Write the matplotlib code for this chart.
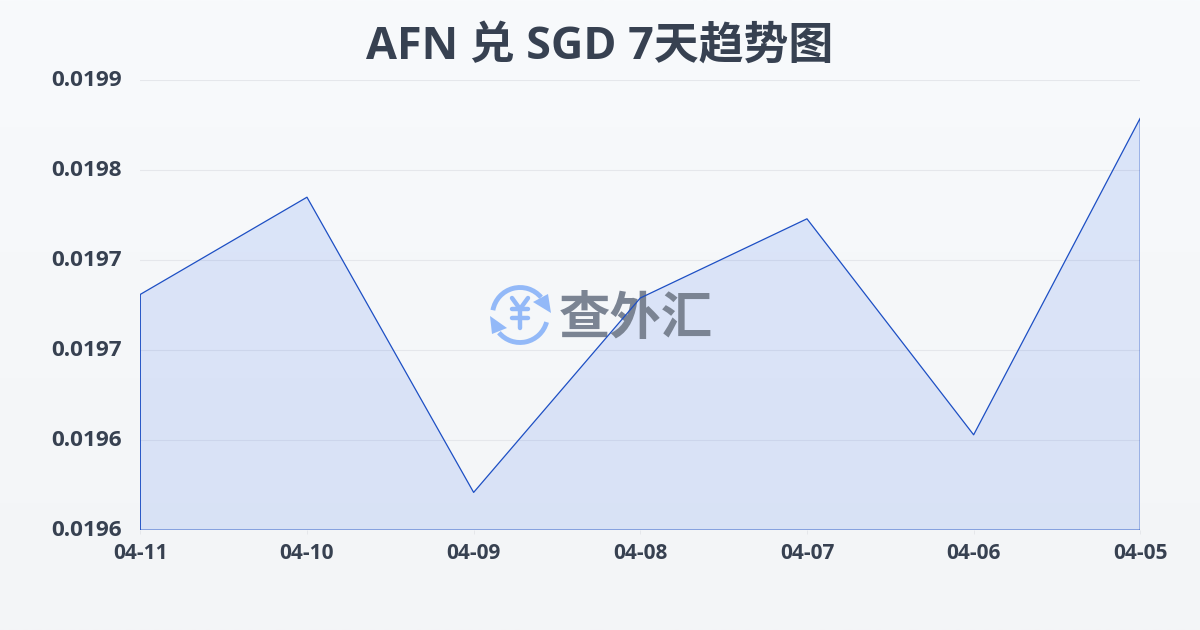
import numpy as np
import matplotlib
matplotlib.use("Agg")
import matplotlib.pyplot as plt
from matplotlib.lines import Line2D
from matplotlib.patches import Arc, Polygon
from matplotlib.transforms import Affine2D

plt.rcParams['font.family'] = ['Open Sans', 'Noto Sans CJK SC', 'DejaVu Sans']

dates = ["04-11", "04-10", "04-09", "04-08", "04-07", "04-06", "04-05"]
rates = [0.019731, 0.019785, 0.019621, 0.019729, 0.019773, 0.019653, 0.019829]
y_ticks = [0.0196, 0.01965, 0.0197, 0.01975, 0.0198, 0.01985]
y_labels = ["0.0196", "0.0196", "0.0197", "0.0197", "0.0198", "0.0199"]

W, H = 1200, 630
TEXT = "#374151"
BLUE = "#1d4fc4"
LOGO = "#93b9f8"

fig = plt.figure(figsize=(W / 100, H / 100), dpi=100)

# fondo degradado
bg = fig.add_axes([0, 0, 1, 1], zorder=0)
bg.imshow(np.linspace(0, 1, 256).reshape(-1, 1), aspect="auto", extent=[0, 1, 0, 1],
          cmap=matplotlib.colors.LinearSegmentedColormap.from_list("bg", ["#f8fafc", "#f3f5f7"]))
bg.axis("off")

ax = fig.add_axes([140.3 / W, 1 - 530.2 / H, 1000 / W, 450 / H], zorder=1)
ax.patch.set_alpha(0)
x = np.arange(len(dates))
ax.fill_between(x, rates, y_ticks[0], facecolor="#2563eb", alpha=0.13, lw=0, zorder=2)
ax.fill_between(x, rates, y_ticks[0], facecolor="none", edgecolor=BLUE, lw=0.9, zorder=5)

ax.set_xlim(0, len(dates) - 1)
ax.set_ylim(y_ticks[0], y_ticks[-1])
ax.set_xticks(x)
ax.set_xticklabels(dates, fontsize=15, fontweight="bold", color=TEXT)
ax.set_yticks(y_ticks)
ax.set_yticklabels(y_labels, fontsize=16.2, fontweight="bold", color=TEXT)
ax.tick_params(axis="x", length=3, width=0.7, color="#e5e7eb", pad=6)
ax.tick_params(axis="y", length=0, pad=13.5)
ax.grid(axis="y", color="#e5e7eb", lw=0.8)
ax.set_axisbelow(True)
for s in ax.spines.values():
    s.set_visible(False)
# las etiquetas del eje y van un poco por encima de la linea
for lab in ax.get_yticklabels():
    lab.set_transform(lab.get_transform() + Affine2D().translate(0, 2))

# marca de agua, en pixeles de la figura
px = Affine2D().scale(1, -1).translate(0, H)
ax.add_patch(Arc((520, 315), 55, 55, theta1=190, theta2=320, transform=px, color=LOGO, lw=3.5,
                 zorder=3, clip_on=False))
ax.add_patch(Arc((520, 315), 55, 55, theta1=15, theta2=140, transform=px, color=LOGO, lw=3.5,
                 zorder=3, clip_on=False))
ax.add_patch(Polygon([[548, 294], [551, 313], [533, 302]], transform=px, color=LOGO, lw=0, zorder=3, clip_on=False))
ax.add_patch(Polygon([[490, 316], [507, 328], [492, 334]], transform=px, color=LOGO, lw=0, zorder=3, clip_on=False))
# simbolo del yen con trazos redondeados
for xs, ys in [([512, 520, 528], [298, 309, 298]), ([520, 520], [309, 328]), ([512, 528], [309, 309]),
               ([512, 528], [318, 318])]:
    ax.add_line(Line2D(xs, ys, transform=px, color=LOGO, lw=3.2, solid_capstyle="round", zorder=3, clip_on=False))
ax.text(636, 321, "查外汇", transform=px, fontsize=37, fontweight="bold", color="#7b8493", ha="center",
        va="center", zorder=3, clip_on=False)

fig.text(0.5, 1 - 47 / H, "AFN 兑 SGD 7天趋势图", fontsize=32.3, fontweight="bold", color=TEXT,
         ha="center", va="center")

fig.savefig("out.png", dpi=100)
